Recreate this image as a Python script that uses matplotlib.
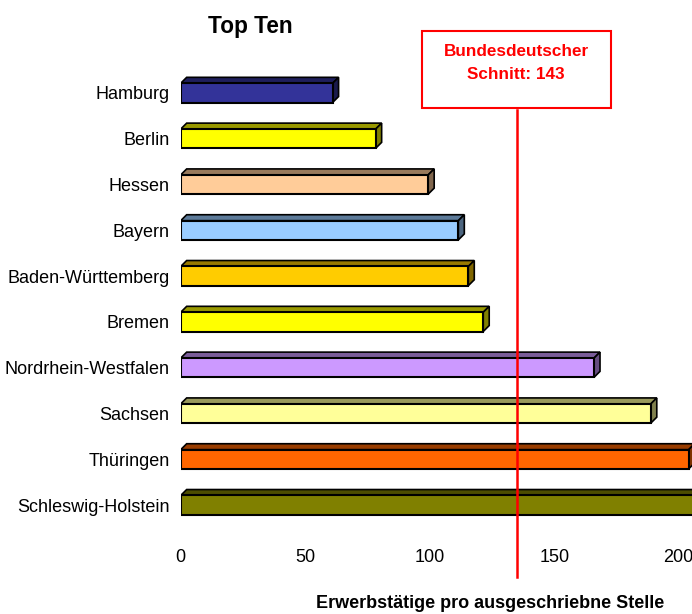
import matplotlib.pyplot as plt
import matplotlib.colors as mcolors
from matplotlib.patches import Polygon, Rectangle
import matplotlib.transforms as mtransforms

plt.rcParams['font.family'] = ['Liberation Sans', 'DejaVu Sans']

laender = ["Hamburg", "Berlin", "Hessen", "Bayern", "Baden-Württemberg",
           "Bremen", "Nordrhein-Westfalen", "Sachsen", "Thüringen", "Schleswig-Holstein"]
werte = [61, 78.3, 99.4, 111.5, 115.5, 121.5, 166, 188.8, 204, 216]
farben = ["#333399", "#FFFF00", "#FFCC99", "#99CCFF", "#FFCC00",
          "#FFFF00", "#CC99FF", "#FFFF99", "#FF6600", "#808000"]
xticks = [0, 50, 100, 150, 200]
schnitt_linie = 135
schnitt_text = "Bundesdeutscher\nSchnitt: 143"

W, H = 692, 614
fig = plt.figure(figsize=(W / 100, H / 100), dpi=100)
ax = fig.add_axes([180.7 / W, 1 - 528 / H, (W - 180.7) / W, 458 / H])

bar_h = 0.42
dx, dy = 2.4, 0.13  # 3d depth in data units

def shade(c, f):
    r, g, b = mcolors.to_rgb(c)
    return (r * f, g * f, b * f)

for i, (v, c) in enumerate(zip(werte, farben)):
    top = i - bar_h / 2
    bot = i + bar_h / 2
    # top face
    ax.add_patch(Polygon([(0, top), (v, top), (v + dx, top - dy), (dx, top - dy)],
                         closed=True, facecolor=shade(c, 0.6), edgecolor="black",
                         linewidth=1.2, zorder=2))
    # side face
    ax.add_patch(Polygon([(v, top), (v + dx, top - dy), (v + dx, bot - dy), (v, bot)],
                         closed=True, facecolor=shade(c, 0.5), edgecolor="black",
                         linewidth=1.2, zorder=2))
    ax.barh(i, v, height=bar_h, color=c, edgecolor="black", linewidth=1.5, zorder=3)

ax.set_xlim(0, (W - 180.7) / 2.49)
ax.set_ylim(9.5, -0.5)
ax.set_yticks(range(len(laender)))
ax.set_yticklabels(laender, fontsize=13)
ax.set_xticks(xticks)
ax.set_xticklabels([str(t) for t in xticks], fontsize=13)
ax.tick_params(axis="both", length=0)
ax.tick_params(axis="y", pad=8)
ax.tick_params(axis="x", pad=15)
for s in ax.spines.values():
    s.set_visible(False)

trans = mtransforms.blended_transform_factory(ax.transData, ax.transAxes)
ax.plot([schnitt_linie, schnitt_linie], [0.913, -0.107], color="red", linewidth=1.8,
        transform=trans, clip_on=False, zorder=5)

fig.patches.append(Rectangle((422 / W, 1 - 108 / H), 189 / W, 77 / H,
                             transform=fig.transFigure, facecolor="white",
                             edgecolor="red", linewidth=1.5))
fig.text(516 / W, 1 - 63 / H, schnitt_text, color="red", fontsize=12.3,
         fontweight="bold", ha="center", va="center", linespacing=1.6)

fig.text(250 / W, 1 - 27 / H, "Top Ten", fontsize=16.3, fontweight="bold",
         ha="center", va="center")
fig.text(490 / W, 1 - 603 / H, "Erwerbstätige pro ausgeschriebne Stelle",
         fontsize=13, fontweight="bold", ha="center", va="center")

fig.savefig("out.png", dpi=100)
